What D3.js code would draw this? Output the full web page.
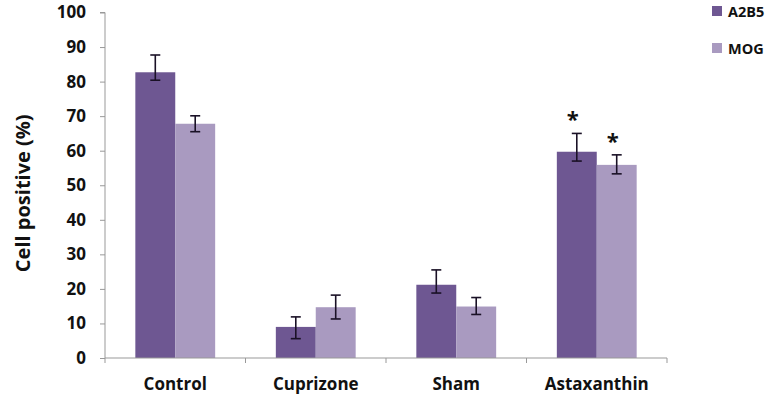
<!DOCTYPE html>
<html>
<head>
<meta charset="utf-8">
<script src="https://cdn.jsdelivr.net/npm/d3@7"></script>
<style>
  body { margin: 0; background: #fff; }
  text { font-family: "Open Sans", Lato, sans-serif; font-weight: bold; fill: #111; }
</style>
</head>
<body>
<svg id="chart"></svg>
<script>
// data
const categories = ["Control", "Cuprizone", "Sham", "Astaxanthin"];
const seriesNames = ["A2B5", "MOG"];
const a2b5 = [82.7, 9.0, 21.2, 59.7];
const a2b5ErrHi = [5.0, 2.9, 4.3, 5.3];
const a2b5ErrLo = [2.3, 3.4, 2.4, 2.7];
const mog = [67.8, 14.7, 14.9, 55.9];
const mogErrHi = [2.3, 3.5, 2.6, 2.9];
const mogErrLo = [2.3, 3.4, 2.3, 2.6];
const a2b5Star = [false, false, false, true];
const mogStar = [false, false, false, true];
const yTicks = [0, 10, 20, 30, 40, 50, 60, 70, 80, 90, 100];

const colors = ["#6e5792", "#a99ac0"];
const width = 777, height = 395;
const margin = { top: 12, right: 110, bottom: 37, left: 105 };

const svg = d3.select("#chart").attr("width", width).attr("height", height);

const x = d3.scaleBand()
  .domain(categories)
  .range([margin.left, 667])
  .paddingInner(0)
  .paddingOuter(0);
const x1 = d3.scaleBand()
  .domain(seriesNames)
  .range([0, x.bandwidth()])
  .paddingInner(0)
  .paddingOuter(0.76);
const y = d3.scaleLinear().domain([0, 100]).range([height - margin.bottom, margin.top + 0.5]);

const rows = categories.map((c, i) => [
  { cat: c, s: "A2B5", v: a2b5[i], hi: a2b5ErrHi[i], lo: a2b5ErrLo[i], star: a2b5Star[i] },
  { cat: c, s: "MOG", v: mog[i], hi: mogErrHi[i], lo: mogErrLo[i], star: mogStar[i] }
]).flat();

// bars
svg.selectAll("rect.bar")
  .data(rows).enter()
  .append("rect")
  .attr("class", "bar")
  .attr("x", d => x(d.cat) + x1(d.s))
  .attr("width", x1.bandwidth())
  .attr("y", d => y(d.v))
  .attr("height", d => y(0) - y(d.v))
  .attr("fill", d => colors[seriesNames.indexOf(d.s)]);

// axes
const yAxis = d3.axisLeft(y).tickValues(yTicks).tickSize(5).tickPadding(14);
svg.append("g")
  .attr("transform", `translate(${margin.left},0)`)
  .call(yAxis)
  .call(g => g.select(".domain").attr("stroke", "#999").attr("d", `M-5,${y(100)}H0V${y(0)}`))
  .call(g => g.selectAll(".tick line").attr("stroke", "#999"))
  .call(g => g.selectAll(".tick text").attr("font-size", 17).style("font-family", "'Open Sans', sans-serif"));

const xAxis = svg.append("g").attr("transform", `translate(0,${y(0)})`);
xAxis.append("line")
  .attr("x1", margin.left).attr("x2", 667)
  .attr("stroke", "#999");
xAxis.selectAll("line.tk")
  .data(categories.concat(["end"])).enter()
  .append("line")
  .attr("class", "tk")
  .attr("x1", (d, i) => i < categories.length ? x(d) : x(categories[i - 1]) + x.bandwidth())
  .attr("x2", (d, i) => i < categories.length ? x(d) : x(categories[i - 1]) + x.bandwidth())
  .attr("y1", 0).attr("y2", 5)
  .attr("stroke", "#999");
xAxis.selectAll("text")
  .data(categories).enter()
  .append("text")
  .attr("x", d => x(d) + x.bandwidth() / 2)
  .attr("y", 32)
  .attr("text-anchor", "middle")
  .attr("font-size", 17)
  .text(d => d);

// error bars
const eb = svg.selectAll("g.err").data(rows).enter().append("g").attr("class", "err")
  .attr("stroke", "#1a1126").attr("stroke-width", 1.6);
const cx = d => x(d.cat) + x1(d.s) + x1.bandwidth() / 2;
eb.append("line").attr("x1", cx).attr("x2", cx)
  .attr("y1", d => y(d.v + d.hi)).attr("y2", d => y(d.v - d.lo));
eb.append("line").attr("x1", d => cx(d) - 5).attr("x2", d => cx(d) + 5)
  .attr("y1", d => y(d.v + d.hi)).attr("y2", d => y(d.v + d.hi));
eb.append("line").attr("x1", d => cx(d) - 5).attr("x2", d => cx(d) + 5)
  .attr("y1", d => y(d.v - d.lo)).attr("y2", d => y(d.v - d.lo));

// significance stars
svg.selectAll("text.star")
  .data(rows.filter(d => d.star)).enter()
  .append("text")
  .attr("class", "star")
  .attr("x", d => cx(d) - 4)
  .attr("y", d => y(d.v + d.hi) - 6)
  .attr("text-anchor", "middle")
  .attr("font-size", 22)
  .text("*");

// y title
svg.append("text")
  .attr("transform", `translate(30,${(y(0) + y(100)) / 2 + 8}) rotate(-90)`)
  .attr("text-anchor", "middle")
  .attr("font-size", 20)
  .text("Cell positive (%)");

// legend
const lg = svg.selectAll("g.lg").data(seriesNames).enter().append("g").attr("class", "lg")
  .attr("transform", (d, i) => `translate(712,${6 + i * 37})`);
lg.append("rect").attr("width", 10).attr("height", 10).attr("fill", (d, i) => colors[i]);
lg.append("text").attr("x", 16).attr("y", 10.5).attr("font-size", 14.5).text(d => d);
</script>
</body>
</html>
